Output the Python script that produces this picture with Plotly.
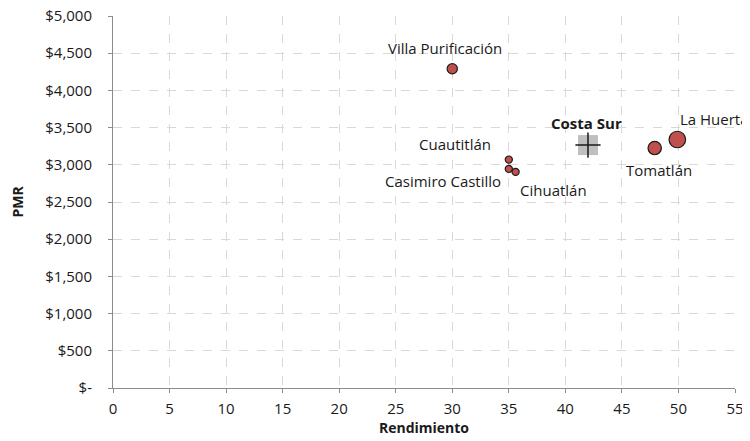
import plotly.graph_objects as go

municipios = ["Villa Purificación", "Cuautitlán", "Casimiro Castillo", "Cihuatlán", "Tomatlán", "La Huerta"]
rendimiento = [30.0, 35.0, 35.0, 35.6, 47.9, 49.9]
pmr = [4290, 3070, 2945, 2905, 3225, 3340]
produccion = [100, 49, 49, 49, 170, 260]

region = "Costa Sur"
region_rend = 42.0
region_pmr = 3265

xticks = [0, 5, 10, 15, 20, 25, 30, 35, 40, 45, 50, 55]
yticks = [0, 500, 1000, 1500, 2000, 2500, 3000, 3500, 4000, 4500, 5000]
yticktext = ["$-", "$500", "$1,000", "$1,500", "$2,000", "$2,500", "$3,000", "$3,500", "$4,000", "$4,500", "$5,000"]

FONT = "Open Sans"
TXT = "#1a1a1a"

fig = go.Figure()
fig.add_trace(go.Scatter(
    x=rendimiento, y=pmr, mode="markers",
    marker=dict(size=produccion, sizemode="area", sizeref=1.9, color="#c0504d", opacity=1,
                line=dict(color="#1a1a1a", width=1.2)),
    hoverinfo="text", text=municipios, showlegend=False,
))
fig.add_trace(go.Scatter(
    x=[region_rend], y=[region_pmr], mode="markers",
    marker=dict(symbol="square", size=20, color="#bfbfbf", opacity=1, line=dict(width=0)),
    showlegend=False, hoverinfo="skip",
))
fig.add_trace(go.Scatter(
    x=[region_rend], y=[region_pmr], mode="markers",
    marker=dict(symbol="cross-thin", size=18, opacity=1, line=dict(color="#1a1a1a", width=1.5)),
    showlegend=False, hoverinfo="skip",
))

offsets = {
    "Villa Purificación": ("center", -7, 21),
    "Cuautitlán": ("right", -16, 16),
    "Casimiro Castillo": ("right", -6, -12),
    "Cihuatlán": ("left", 2, -18),
    "Tomatlán": ("center", 4, -22),
    "La Huerta": ("left", 1, 21),
}
for n, xv, yv in zip(municipios, rendimiento, pmr):
    xa, xs, ys = offsets[n]
    fig.add_annotation(x=xv, y=yv, text=n, showarrow=False, xanchor=xa, yanchor="middle",
                       xshift=xs, yshift=ys, font=dict(family=FONT, size=15, color=TXT))
fig.add_annotation(x=region_rend, y=region_pmr, text="<b>" + region + "</b>", showarrow=False,
                   xanchor="center", yanchor="middle", xshift=-1, yshift=22,
                   font=dict(family=FONT, size=15, color=TXT))

fig.update_layout(
    width=750, height=441,
    margin=dict(l=104.5, r=23, t=8, b=61),
    plot_bgcolor="white", paper_bgcolor="white",
    font=dict(family=FONT, size=15, color=TXT),
    xaxis=dict(range=[0, 55], tickvals=xticks, showgrid=True, gridcolor="#d9d9d9",
               griddash="dash", gridwidth=1, showline=True, linecolor="#8c8c8c", linewidth=1,
               ticks="outside", ticklen=4, tickcolor="#8c8c8c", zeroline=False, automargin=False,
               ticklabelstandoff=3, ticklabeloverflow="allow",
               title=dict(text="<b>Rendimiento</b>", font=dict(size=14), standoff=6)),
    yaxis=dict(range=[0, 5000], tickvals=yticks, ticktext=yticktext, showgrid=True,
               gridcolor="#d9d9d9", griddash="dash", gridwidth=1, showline=True,
               linecolor="#8c8c8c", linewidth=1, ticks="outside", ticklen=4,
               tickcolor="#8c8c8c", zeroline=False, automargin=False,
               ticklabelstandoff=13, ticklabeloverflow="allow",
               title=dict(text="<b>PMR</b>", font=dict(size=14), standoff=19)),
)
fig.write_html("out.html")
